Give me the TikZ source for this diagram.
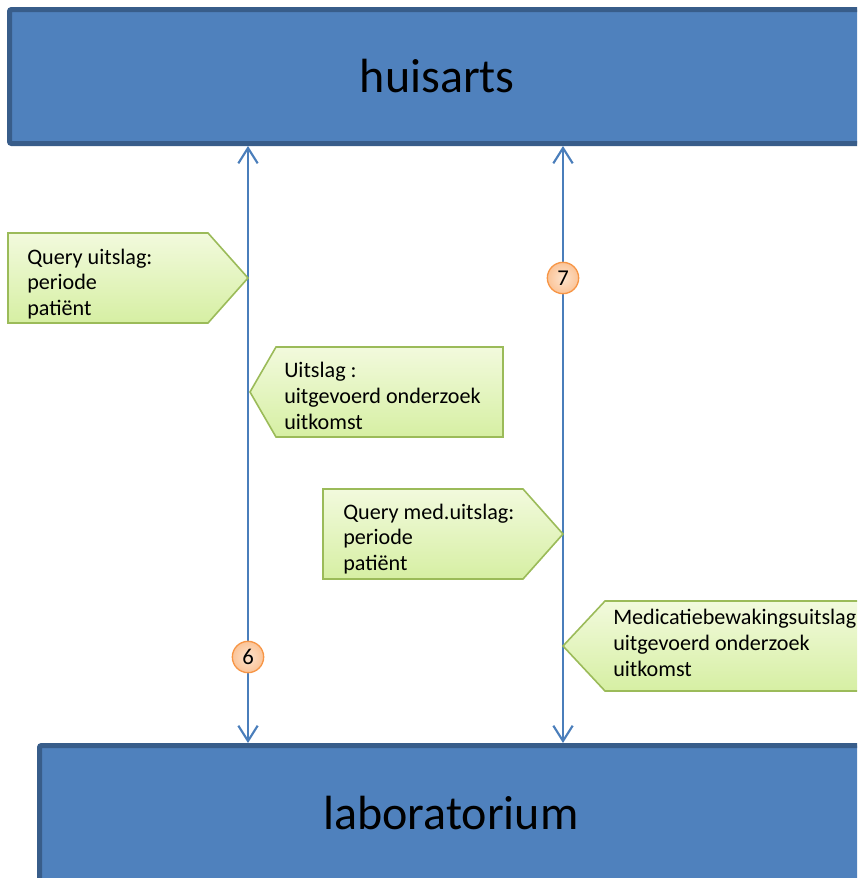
\documentclass[tikz,border=0pt]{standalone}
\usepackage{fontspec}
\setmainfont{Carlito}
\usetikzlibrary{arrows.meta}
\definecolor{boxfill}{HTML}{4F81BD}
\definecolor{boxline}{HTML}{385D8A}
\definecolor{flowline}{HTML}{4A7EBB}
\definecolor{msgline}{HTML}{9BBB59}
\definecolor{msgtop}{HTML}{F2FADD}
\definecolor{msgbot}{HTML}{D6EFA3}
\definecolor{badgeline}{HTML}{F79646}
\definecolor{badgein}{HTML}{FDE3CC}
\definecolor{badgeout}{HTML}{FBC498}
\tikzset{
  party/.style={draw=boxline, line width=3.75pt, fill=boxfill, rounded corners=1.5pt,
    font=\fontsize{36}{40}\selectfont, text=black, inner sep=0pt},
  flow/.style={draw=flowline, line width=1.6pt,
    {Straight Barb[length=11.5pt,width=14.5pt]}-{Straight Barb[length=11.5pt,width=14.5pt]}},
  msg/.style={draw=msgline, line width=1.2pt, top color=msgtop, bottom color=msgbot},
  msgtext/.style={anchor=west, inner sep=0pt, align=left,
    font=\fontsize{16.6}{19.4}\selectfont},
  badge/.style={circle, draw=badgeline, line width=1pt, inner color=badgein, outer color=badgeout,
    minimum size=23.5pt, inner sep=0pt, font=\fontsize{17}{19}\selectfont}
}
\begin{document}
\begin{tikzpicture}[x=0.75pt,y=-0.75pt]
\useasboundingbox (0,0) rectangle (857,878);
\clip (0,0) rectangle (857,878);

% the two parties
\node[party, minimum width=641.6pt, minimum height=100.5pt] (huis) at (437.25,76.5) {huisarts};
\node[party, minimum width=617.25pt, minimum height=101.25pt] (lab) at (451,813) {laboratorium};

% columns of the two exchanges
\coordinate (c6) at (248,400);
\coordinate (c7) at (563,400);

\draw[flow] (huis.south -| c6) -- (lab.north -| c6);
\draw[flow] (huis.south -| c7) -- (lab.north -| c7);

% messages
\path[msg] (8,233) -- (208,233) -- (248,278) -- (208,323) -- (8,323) -- cycle;
\node[msgtext] (m1) at (27,284) {Query uitslag:\\periode\\patiënt};

\path[msg] (250,392) -- (276,347) -- (503,347) -- (503,437) -- (276,437) -- cycle;
\node[msgtext] (m2) at (284,396) {Uitslag :\\uitgevoerd onderzoek\\uitkomst};

\path[msg] (323,489) -- (523,489) -- (563,534) -- (523,579) -- (323,579) -- cycle;
\node[msgtext] (m3) at (343,539) {Query med.uitslag:\\periode\\patiënt};

\path[msg] (563,646) -- (605,601) -- (880,601) -- (880,691) -- (605,691) -- cycle;
\node[msgtext] (m4) at (613,643) {Medicatiebewakingsuitslag\\uitgevoerd onderzoek\\uitkomst};

% step numbers
\node[badge] (n7) at (563,278) {7};
\node[badge] (n6) at (248,657) {6};
\end{tikzpicture}
\end{document}
